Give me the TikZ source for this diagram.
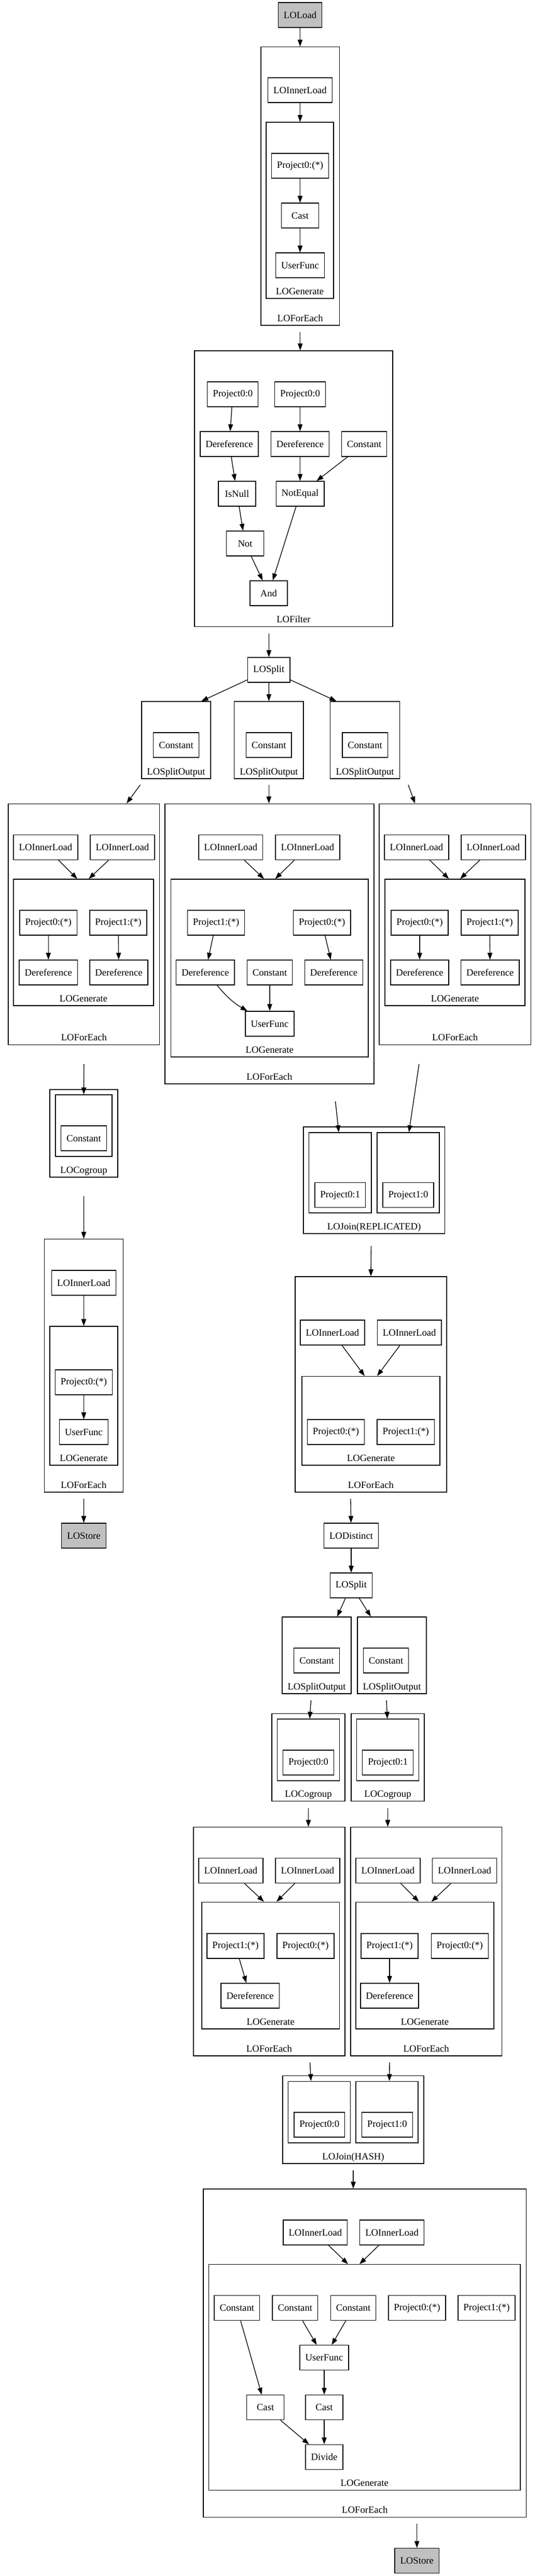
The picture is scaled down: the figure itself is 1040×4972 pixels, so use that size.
\documentclass[tikz,border=0pt]{standalone}
\usepackage{fontspec}
\setmainfont{Liberation Serif}
\usepackage{tikz}
\usetikzlibrary{fit,arrows.meta}
\definecolor{lgray}{RGB}{192,192,192}

\begin{document}
\begin{tikzpicture}[x=0.75pt,y=-0.75pt,line width=1pt,font=\fontsize{14pt}{16pt}\selectfont]
	\tikzset{opbox/.style={draw,rectangle,minimum width=54pt,minimum height=36pt,inner xsep=7.92pt,inner ysep=0pt}}
	\tikzset{iobox/.style={opbox,fill=lgray}}
	\tikzset{grpbox/.style={draw,rectangle,inner sep=0pt}}
	\tikzset{grplabel/.style={anchor=base,yshift=6.5pt,inner sep=0pt}}
	\tikzset{flow/.style={-{Triangle[length=10pt,width=7pt]}}}
	\useasboundingbox (0,0) rectangle (1040,4972);

	\node[iobox] (load) at (578.5,29) {LOLoad};
	\node[opbox] (il1) at (578.5,174) {LOInnerLoad};
	\node[opbox] (p1) at (578.5,320) {Project0:(*)};
	\node[opbox] (cast1) at (578.5,416) {Cast};
	\node[opbox] (uf1) at (578.5,512) {UserFunc};
	\node[grpbox,fit={(513,236) (643,576)},label={[grplabel]south:LOGenerate}] (gen1) {};
	\node[grpbox,fit={(503,90.5) (654.5,628)},label={[grplabel]south:LOForEach}] (fe1) {};
	\draw[flow] (load) -- (fe1.north -| load);
	\draw[flow] (il1) -- (gen1.north -| il1);
	\draw[flow] (p1) -- (cast1);
	\draw[flow] (cast1) -- (uf1);

	\node[opbox] (fp1) at (448.75,761) {Project0:0};
	\node[opbox] (fp2) at (578.5,761) {Project0:0};
	\node[opbox] (fd1) at (442,857) {Dereference};
	\node[opbox] (fd2) at (578.5,857) {Dereference};
	\node[opbox] (fc) at (702,857) {Constant};
	\node[opbox] (fisn) at (457,953) {IsNull};
	\node[opbox] (fne) at (578.5,953) {NotEqual};
	\node[opbox] (fnot) at (472.5,1049) {Not};
	\node[opbox] (fand) at (518,1145) {And};
	\node[grpbox,fit={(375,677) (757,1209.5)},label={[grplabel]south:LOFilter}] (flt) {};
	\draw[flow] ([yshift=-9pt]fe1.south) -- (flt.north -| fe1.south);
	\draw[flow] (fp1) -- (fd1);
	\draw[flow] (fp2) -- (fd2);
	\draw[flow] (fd1) -- (fisn);
	\draw[flow] (fd2) -- (fne);
	\draw[flow] (fc) -- (fne);
	\draw[flow] (fisn) -- (fnot);
	\draw[flow] (fnot) -- (fand);
	\draw[flow] (fne) -- (fand);

	\node[opbox] (split1) at (518.25,1293) {LOSplit};
	\draw[flow] ([xshift=-35.6pt,yshift=-9.4pt]flt.south) -- (split1);
	\node[opbox] (sc1) at (339.5,1438) {Constant};
	\node[grpbox,fit={(273,1354) (406,1503)},label={[grplabel]south:LOSplitOutput}] (so1) {};
	\node[opbox] (sc2) at (518.3,1438) {Constant};
	\node[grpbox,fit={(451.6,1354) (585,1503)},label={[grplabel]south:LOSplitOutput}] (so2) {};
	\node[opbox] (sc3) at (703.6,1438) {Constant};
	\node[grpbox,fit={(636.6,1354) (770.6,1503)},label={[grplabel]south:LOSplitOutput}] (so3) {};
	\draw[flow] (split1) -- ([xshift=36.4pt]so1.north);
	\draw[flow] (split1) -- (so2.north);
	\draw[flow] (split1) -- ([xshift=-41.3pt]so3.north);

	\node[opbox] (ilA1) at (88,1635.3) {LOInnerLoad};
	\node[opbox] (ilA2) at (236,1635.3) {LOInnerLoad};
	\node[opbox] (pA0) at (93.25,1781) {Project0:(*)};
	\node[opbox] (pA1) at (228,1781) {Project1:(*)};
	\node[opbox] (dA0) at (93.25,1877) {Dereference};
	\node[opbox] (dA1) at (229,1877) {Dereference};
	\node[grpbox,fit={(26,1697) (296,1941)},label={[grplabel]south:LOGenerate}] (genA) {};
	\node[grpbox,fit={(16,1551.4) (307.7,2016.4)},label={[grplabel]south:LOForEach}] (feA) {};
	\draw[flow] ([xshift=-51.75pt,yshift=-8.25pt]so1.south) -- ([xshift=61.6pt]feA.north);
	\draw[flow] (ilA1) -- ([xshift=-9pt]genA.north);
	\draw[flow] (ilA2) -- ([xshift=7.5pt]genA.north);
	\draw[flow] (pA0) -- (dA0);
	\draw[flow] (pA1) -- (dA1);

	\node[opbox] (ilB1) at (444.8,1635.3) {LOInnerLoad};
	\node[opbox] (ilB2) at (593,1635.3) {LOInnerLoad};
	\node[opbox] (pB1) at (416.5,1781) {Project1:(*)};
	\node[opbox] (pB0) at (620.8,1781) {Project0:(*)};
	\node[opbox] (dB1) at (395.75,1877) {Dereference};
	\node[opbox] (cB) at (520,1877) {Constant};
	\node[opbox] (dB0) at (643.5,1877) {Dereference};
	\node[opbox] (ufB) at (520,1976) {UserFunc};
	\node[grpbox,fit={(329.6,1697) (710,2040)},label={[grplabel]south:LOGenerate}] (genB) {};
	\node[grpbox,fit={(318,1551.4) (721,2092)},label={[grplabel]south:LOForEach}] (feB) {};
	\draw[flow] ([yshift=-8.25pt]so2.south) -- (feB.north -| so2.south);
	\draw[flow] (ilB1) -- ([xshift=-8.1pt]genB.north);
	\draw[flow] (ilB2) -- ([xshift=8pt]genB.north);
	\draw[flow] (pB1) -- (dB1);
	\draw[flow] (pB0) -- (dB0);
	\draw[flow] ([xshift=17pt]dB1.south) to[bend right=10] ([xshift=3.4pt]ufB.north west);
	\draw[flow] (cB) -- (ufB);

	\node[opbox] (ilC1) at (803,1635.3) {LOInnerLoad};
	\node[opbox] (ilC2) at (951,1635.3) {LOInnerLoad};
	\node[opbox] (pC0) at (809,1781) {Project0:(*)};
	\node[opbox] (pC1) at (944,1781) {Project1:(*)};
	\node[opbox] (dC0) at (809,1877) {Dereference};
	\node[opbox] (dC1) at (944.8,1877) {Dereference};
	\node[grpbox,fit={(742,1697) (1012,1941)},label={[grplabel]south:LOGenerate}] (genC) {};
	\node[grpbox,fit={(731,1551.4) (1023.4,2016.4)},label={[grplabel]south:LOForEach}] (feC) {};
	\draw[flow] ([xshift=62.55pt,yshift=-8.25pt]so3.south) -- ([xshift=-57.9pt]feC.north);
	\draw[flow] (ilC1) -- ([xshift=-8.7pt]genC.north);
	\draw[flow] (ilC2) -- ([xshift=7.5pt]genC.north);
	\draw[flow] (pC0) -- (dC0);
	\draw[flow] (pC1) -- (dC1);

	\node[opbox] (cA) at (161.5,2197) {Constant};
	\node[grpbox,fit={(107,2113) (216,2232)}] (cgAi) {};
	\node[grpbox,fit={(96,2103) (227,2272)},label={[grplabel]south:LOCogroup}] (cgA) {};
	\draw[flow] ([yshift=-27.5pt]feA.south) -- (cgAi.north);

	\node[opbox] (ilD) at (161.5,2476) {LOInnerLoad};
	\node[opbox] (pD) at (161.5,2668) {Project0:(*)};
	\node[opbox] (ufD) at (161.5,2764) {UserFunc};
	\node[grpbox,fit={(96,2560) (227,2828)},label={[grplabel]south:LOGenerate}] (genD) {};
	\node[grpbox,fit={(85.5,2391.7) (237.4,2880)},label={[grplabel]south:LOForEach}] (feD) {};
	\draw[flow] ([yshift=-27pt]cgA.south) -- (feD.north);
	\draw[flow] (ilD) -- (genD.north -| ilD);
	\draw[flow] (pD) -- (ufD);
	\node[iobox] (stA) at (161.5,2964) {LOStore};
	\draw[flow] ([yshift=-9pt]feD.south) -- (stA);

	\node[opbox] (jp0) at (655.75,2306.75) {Project0:1};
	\node[opbox] (jp1) at (787,2306.75) {Project1:0};
	\node[grpbox,fit={(595.5,2186) (716,2341)}] (jrL) {};
	\node[grpbox,fit={(727,2186) (847,2341)}] (jrR) {};
	\node[grpbox,fit={(585,2175) (857.4,2381)},label={[grplabel]south:LOJoin(REPLICATED)}] (jr) {};
	\draw[flow] ([xshift=95.3pt,yshift=-24.75pt]feB.south) -- ([xshift=-2pt]jrL.north);
	\draw[flow] ([xshift=-52pt,yshift=-27.5pt]feC.south) -- ([xshift=1pt]jrR.north);

	\node[opbox] (ilE1) at (641,2572) {LOInnerLoad};
	\node[opbox] (ilE2) at (789.25,2572) {LOInnerLoad};
	\node[opbox] (pE0) at (647.5,2764) {Project0:(*)};
	\node[opbox] (pE1) at (782.25,2764) {Project1:(*)};
	\node[grpbox,fit={(582,2656.5) (848,2828)},label={[grplabel]south:LOGenerate}] (genE) {};
	\node[grpbox,fit={(569,2464) (861,2880)},label={[grplabel]south:LOForEach}] (feE) {};
	\draw[flow] ([xshift=-4.3pt,yshift=-17.25pt]jr.south) -- (feE.north);
	\draw[flow] (ilE1) -- ([xshift=-9pt]genE.north);
	\draw[flow] (ilE2) -- ([xshift=9pt]genE.north);

	\node[opbox] (dist) at (677,2964) {LODistinct};
	\node[opbox] (split2) at (677,3060) {LOSplit};
	\draw[flow] ([xshift=-29.25pt,yshift=-9pt]feE.south) -- (dist);
	\draw[flow] (dist) -- (split2);

	\node[opbox] (sc4) at (610.5,3205) {Constant};
	\node[grpbox,fit={(544,3121) (677,3269)},label={[grplabel]south:LOSplitOutput}] (so4) {};
	\node[opbox] (sc5) at (744,3205) {Constant};
	\node[grpbox,fit={(689,3121) (822,3269)},label={[grplabel]south:LOSplitOutput}] (so5) {};
	\draw[flow] (split2) -- ([xshift=29.6pt]so4.north);
	\draw[flow] (split2) -- ([xshift=-30.4pt]so5.north);

	\node[opbox] (cp4) at (594.5,3402) {Project0:0};
	\node[grpbox,fit={(534.5,3318) (654.5,3437)}] (cg4i) {};
	\node[grpbox,fit={(524,3307.5) (665,3476.6)},label={[grplabel]south:LOCogroup}] (cg4) {};
	\node[opbox] (cp5) at (747.7,3402) {Project0:1};
	\node[grpbox,fit={(687.7,3318) (807.7,3437)}] (cg5i) {};
	\node[grpbox,fit={(677,3307.5) (818,3476.6)},label={[grplabel]south:LOCogroup}] (cg5) {};
	\draw[flow] ([xshift=-8.25pt,yshift=-9pt]so4.south) -- ([xshift=1.9pt]cg4i.north);
	\draw[flow] ([xshift=-7.9pt,yshift=-9pt]so5.south) -- ([xshift=-0.75pt]cg5i.north);

	\node[opbox] (ilF1) at (445,3610.5) {LOInnerLoad};
	\node[opbox] (ilF2) at (593,3610.5) {LOInnerLoad};
	\node[opbox] (pF1) at (454,3755.8) {Project1:(*)};
	\node[opbox] (pF0) at (589,3755.8) {Project0:(*)};
	\node[opbox] (dF) at (482.1,3851.8) {Dereference};
	\node[grpbox,fit={(389,3671.3) (654.5,3916)},label={[grplabel]south:LOGenerate}] (genF) {};
	\node[grpbox,fit={(373,3526.7) (665,3968)},label={[grplabel]south:LOForEach}] (feF) {};
	\draw[flow] ([yshift=-9.3pt]cg4.south) -- (feF.north -| cg4.south);
	\draw[flow] (ilF1) -- ([xshift=-9.6pt]genF.north);
	\draw[flow] (ilF2) -- ([xshift=8.4pt]genF.north);
	\draw[flow] (pF1) -- (dF);

	\node[opbox] (ilG1) at (748,3610.5) {LOInnerLoad};
	\node[opbox] (ilG2) at (895.6,3610.5) {LOInnerLoad};
	\node[opbox] (pG1) at (751,3755.8) {Project1:(*)};
	\node[opbox] (pG0) at (886.3,3755.8) {Project0:(*)};
	\node[opbox] (dG) at (751,3851.8) {Dereference};
	\node[grpbox,fit={(686,3671.3) (952,3916)},label={[grplabel]south:LOGenerate}] (genG) {};
	\node[grpbox,fit={(676,3526.7) (967.5,3968)},label={[grplabel]south:LOForEach}] (feG) {};
	\draw[flow] ([yshift=-9.3pt]cg5.south) -- (feG.north -| cg5.south);
	\draw[flow] (ilG1) -- ([xshift=-8.5pt]genG.north);
	\draw[flow] (ilG2) -- ([xshift=9.45pt]genG.north);
	\draw[flow] (pG1) -- (dG);

	\node[opbox] (jq0) at (615.75,4101) {Project0:0};
	\node[opbox] (jq1) at (746.3,4101) {Project1:0};
	\node[grpbox,fit={(555.7,4017.3) (675.7,4136)}] (jhL) {};
	\node[grpbox,fit={(686,4017.3) (806,4136)}] (jhR) {};
	\node[grpbox,fit={(545,4006.7) (817,4176)},label={[grplabel]south:LOJoin(HASH)}] (jh) {};
	\draw[flow] ([xshift=58.9pt,yshift=-9pt]feF.south) -- ([xshift=-12.2pt]jhL.north);
	\draw[flow] ([xshift=-53.1pt,yshift=-9pt]feG.south) -- ([xshift=3.5pt]jhR.north);

	\node[opbox] (ilH1) at (607.85,4309) {LOInnerLoad};
	\node[opbox] (ilH2) at (755.6,4309) {LOInnerLoad};
	\node[opbox] (hc1) at (456.85,4454.7) {Constant};
	\node[opbox] (hc2) at (568.85,4454.7) {Constant};
	\node[opbox] (hc3) at (681,4454.7) {Constant};
	\node[opbox] (hp0) at (804,4454.7) {Project0:(*)};
	\node[opbox] (hp1) at (938,4454.7) {Project1:(*)};
	\node[opbox] (huf) at (625,4550.7) {UserFunc};
	\node[opbox] (hcast1) at (511.6,4646.7) {Cast};
	\node[opbox] (hcast2) at (625,4646.7) {Cast};
	\node[opbox] (hdiv) at (625,4742.5) {Divide};
	\node[grpbox,fit={(402.5,4370.7) (1003,4806.7)},label={[grplabel]south:LOGenerate}] (genH) {};
	\node[grpbox,fit={(392,4225) (1014.6,4858.3)},label={[grplabel]south:LOForEach}] (feH) {};
	\draw[flow] ([yshift=-9pt]jh.south) -- (feH.north -| jh.south);
	\draw[flow] (ilH1) -- ([xshift=-23.8pt]genH.north);
	\draw[flow] (ilH2) -- ([xshift=-7.3pt]genH.north);
	\draw[flow] (hc1) -- (hcast1);
	\draw[flow] (hc2) -- (huf);
	\draw[flow] (hc3) -- (huf);
	\draw[flow] (huf) -- (hcast2);
	\draw[flow] (hcast1) -- (hdiv);
	\draw[flow] (hcast2) -- (hdiv);
	\node[iobox] (stB) at (803.7,4942.5) {LOStore};
	\draw[flow] ([xshift=75.3pt,yshift=-9pt]feH.south) -- (stB);
\end{tikzpicture}
\end{document}
